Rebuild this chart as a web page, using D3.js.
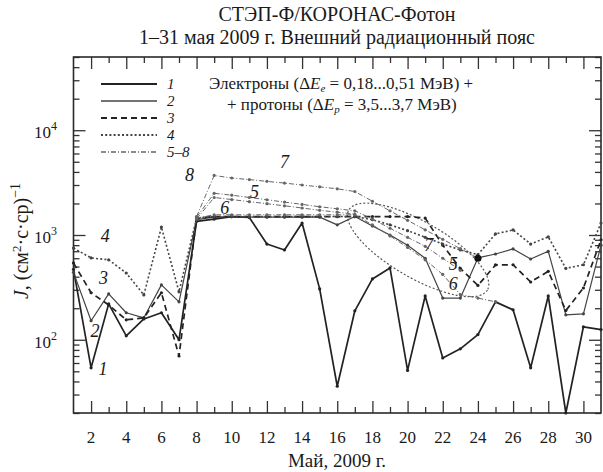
<!DOCTYPE html>
<html>
<head>
<meta charset="utf-8">
<script src="https://cdn.jsdelivr.net/npm/d3@7"></script>
</head>
<body style="margin:0;background:#fff">
<svg id="chart" width="603" height="472"></svg>
<script>
// Days of May 2009
const days = [1,2,3,4,5,6,7,8,9,10,11,12,13,14,15,16,17,18,19,20,21,22,23,24,25,26,27,28,29,30,31];

// Fluxes J, (cm^2 s sr)^-1, one value per day (null = no value)
const series1 = [470,54,220,109,158,181,100,1350,1420,1500,1470,820,720,1300,306,36,189,381,485,51,262,67,82,112,230,193,54,262,20,133,125];
const series2 = [440,152,274,181,162,334,230,1400,1480,1500,1480,1480,1480,1480,1480,1250,1500,1220,1000,800,600,250,250,604,659,736,590,700,173,177,800];
const series3 = [541,281,215,155,162,281,70,1450,1500,1500,1500,1500,1500,1500,1500,1500,1500,1500,1500,1500,1450,800,480,330,518,520,356,450,190,312,900];
const series4 = [751,604,580,434,268,1190,287,1450,1500,1500,1500,1500,1500,1500,1500,1500,1500,1400,1250,1100,950,820,720,650,1023,1117,820,960,480,520,1300];
const series5 = [null,null,null,null,null,null,null,1480,2500,2400,2280,2170,2060,1960,1860,1780,1700,1420,1160,950,780,600,460,null,null,null,null,null,null,null,null];
const series6 = [null,null,null,null,null,null,null,1450,1560,1560,1560,1560,1560,1560,1560,1560,1560,1250,980,760,580,420,270,250,230,null,null,null,null,null,null];
const series7 = [null,null,null,null,null,null,null,1500,3700,3500,3380,3250,3130,3000,2880,2760,2600,2100,1700,1380,1120,910,740,600,null,null,null,null,null,null,null];
const series8 = [null,null,null,null,null,null,null,1420,2280,2180,2080,1990,1900,1810,1720,1650,1580,null,null,null,null,null,null,null,null,null,null,null,null,null,null];

// Axis ticks
const xTickLabels = [2,4,6,8,10,12,14,16,18,20,22,24,26,28,30];
const yMajorTicks = [100,1000,10000];
const yTickExponents = ["2","3","4"];

// Curve number labels: [text, day, value]
const curveLabels = [
  ["4", 2.8, 860], ["3", 2.7, 340], ["2", 2.22, 107], ["1", 2.68, 46],
  ["8", 7.6, 3300], ["7", 13.0, 4350], ["5", 11.3, 2250], ["6", 9.6, 1580],
  ["7", 21.2, 700], ["5", 22.6, 460], ["6", 22.6, 300]
];

const FONT = "Liberation Serif";

const svg = d3.select("#chart");
const m = { left: 73.5, right: 601, top: 57, bottom: 413 };

const x = d3.scaleLinear().domain([1, 31]).range([m.left, m.right]);
const y = d3.scaleLog().domain([20, 50000]).range([m.bottom, m.top]);

function txt(sel, size) {
  return sel.attr("font-family", FONT).attr("font-size", size).attr("fill", "#1a1a1a");
}

// Minor y ticks: 2..9 within each decade
const yMinor = [];
[10, 100, 1000, 10000].forEach(d => {
  for (let k = 1; k <= 9; k++) {
    const v = d * k;
    if (v >= 20 && v <= 50000 && !yMajorTicks.includes(v)) yMinor.push(v);
  }
});

const axisG = svg.append("g");
const tickStroke = "#333";

function drawYTicks(axisGen, xpos, values, size) {
  const g = axisG.append("g").attr("transform", `translate(${xpos},0)`)
    .call(axisGen(y).tickValues(values).tickSize(size).tickFormat(""));
  g.attr("font-family", FONT);
  g.select(".domain").remove();
  g.selectAll(".tick text").remove();
  g.selectAll(".tick line").attr("stroke", tickStroke).attr("stroke-width", 1.3);
}
drawYTicks(d3.axisLeft, m.left, yMajorTicks, -12);
drawYTicks(d3.axisLeft, m.left, yMinor, -6);
drawYTicks(d3.axisRight, m.right, yMajorTicks, -12);
drawYTicks(d3.axisRight, m.right, yMinor, -6);

const xMajor = days.filter(d => d % 2 === 0);
const xMinor = days.filter(d => d % 2 === 1 && d > 1 && d < 31);
function drawXTicks(axisGen, ypos, values, size) {
  const g = axisG.append("g").attr("transform", `translate(0,${ypos})`)
    .call(axisGen(x).tickValues(values).tickSize(size).tickFormat(""));
  g.attr("font-family", FONT);
  g.select(".domain").remove();
  g.selectAll(".tick text").remove();
  g.selectAll(".tick line").attr("stroke", tickStroke).attr("stroke-width", 1.3);
}
drawXTicks(d3.axisBottom, m.bottom, xMajor, -12);
drawXTicks(d3.axisBottom, m.bottom, xMinor, -6);
drawXTicks(d3.axisTop, m.top, xMajor, -12);
drawXTicks(d3.axisTop, m.top, xMinor, -6);

// Frame
svg.append("rect").attr("x", m.left).attr("y", m.top)
  .attr("width", m.right - m.left).attr("height", m.bottom - m.top)
  .attr("fill", "none").attr("stroke", "#2a2a2a").attr("stroke-width", 1.6);

// Ellipse marking the region of proton contribution
const ellipseCenter = { day: 20.6, value: 720 };
svg.append("ellipse")
  .attr("transform", `translate(${x(ellipseCenter.day)},${y(ellipseCenter.value)}) rotate(30)`)
  .attr("rx", 80).attr("ry", 28)
  .attr("fill", "none").attr("stroke", "#555").attr("stroke-width", 1.2)
  .attr("stroke-dasharray", "2,2");

// Series styles
const seriesDefs = [
  { key: "1", data: series1, color: "#222", width: 1.7, dash: null },
  { key: "2", data: series2, color: "#444", width: 1.2, dash: null },
  { key: "3", data: series3, color: "#222", width: 1.7, dash: "6,4" },
  { key: "4", data: series4, color: "#444", width: 1.6, dash: "2,2.2" },
  { key: "5", data: series5, color: "#666", width: 1.0, dash: "5,2,1,2" },
  { key: "6", data: series6, color: "#666", width: 1.0, dash: "5,2,1,2" },
  { key: "7", data: series7, color: "#666", width: 1.0, dash: "5,2,1,2" },
  { key: "8", data: series8, color: "#666", width: 1.0, dash: "5,2,1,2" }
];

const line = d3.line()
  .defined(d => d.v != null)
  .x(d => x(d.day)).y(d => y(d.v));

const plot = svg.append("g");
seriesDefs.forEach(s => {
  const pts = days.map((d, i) => ({ day: d, v: s.data[i] }));
  plot.append("path").datum(pts)
    .attr("fill", "none").attr("stroke", s.color)
    .attr("stroke-width", s.width)
    .attr("stroke-dasharray", s.dash)
    .attr("stroke-linejoin", "round")
    .attr("d", line);
  plot.append("g").selectAll("circle").data(pts.filter(p => p.v != null)).join("circle")
    .attr("cx", p => x(p.day)).attr("cy", p => y(p.v))
    .attr("r", 1.6).attr("fill", s.color);
});

// Heavier marker where curve 7 ends
const s7last = days.map((d, i) => ({ day: d, v: series7[i] })).filter(p => p.v != null).pop();
plot.append("circle").attr("cx", x(s7last.day)).attr("cy", y(s7last.v))
  .attr("r", 3.6).attr("fill", "#111");

// Legend line samples
const legendItems = [
  { label: "1", def: seriesDefs[0] },
  { label: "2", def: seriesDefs[1] },
  { label: "3", def: seriesDefs[2] },
  { label: "4", def: seriesDefs[3] },
  { label: "5–8", def: seriesDefs[4] }
];
const lg = svg.append("g").attr("transform", "translate(101,84)");
legendItems.forEach((it, i) => {
  const yy = i * 17;
  lg.append("line").attr("x1", 0).attr("x2", 56).attr("y1", yy).attr("y2", yy)
    .attr("stroke", it.def.color).attr("stroke-width", it.def.width + 0.3)
    .attr("stroke-dasharray", it.def.dash);
});

// ---- Texts ----
txt(svg.append("text"), 20).attr("x", 337).attr("y", 21).attr("text-anchor", "middle")
  .text("СТЭП-Ф/КОРОНАС-Фотон");
txt(svg.append("text"), 20).attr("x", 337).attr("y", 44).attr("text-anchor", "middle")
  .text("1–31 мая 2009 г. Внешний радиационный пояс");

svg.append("g").selectAll("text").data(xTickLabels).join("text")
  .attr("font-family", FONT).attr("font-size", 17).attr("fill", "#1a1a1a")
  .attr("x", d => x(d)).attr("y", 443).attr("text-anchor", "middle")
  .text(d => d);

const yl = svg.append("g").selectAll("text").data(yMajorTicks).join("text")
  .attr("font-family", FONT).attr("font-size", 17).attr("fill", "#1a1a1a")
  .attr("x", 57).attr("y", d => y(d) + 8).attr("text-anchor", "end");
yl.append("tspan").text("10");
yl.append("tspan").attr("dy", -8).attr("font-size", 12).text((d, i) => yTickExponents[i]);

txt(svg.append("text"), 19).attr("x", 337).attr("y", 467).attr("text-anchor", "middle")
  .text("Май, 2009 г.");

const yt = txt(svg.append("text"), 20).attr("transform", "translate(28,241) rotate(-90)")
  .attr("text-anchor", "middle");
yt.append("tspan").attr("font-style", "italic").text("J");
yt.append("tspan").text(", (см");
yt.append("tspan").attr("dy", -7).attr("font-size", 13).text("2");
yt.append("tspan").attr("dy", 7).text("·с·ср)");
yt.append("tspan").attr("dy", -8).attr("font-size", 14).text("−1");

svg.append("g").selectAll("text").data(curveLabels).join("text")
  .attr("font-family", FONT).attr("font-size", 18).attr("fill", "#1a1a1a")
  .attr("x", d => x(d[1])).attr("y", d => y(d[2]))
  .attr("text-anchor", "middle").attr("font-style", "italic")
  .text(d => d[0]);

svg.append("g").selectAll("text").data(legendItems).join("text")
  .attr("font-family", FONT).attr("font-size", 15).attr("fill", "#1a1a1a")
  .attr("font-style", "italic")
  .attr("x", 167).attr("y", (d, i) => 84 + i * 17 + 5)
  .text(d => d.label);

const lt1 = txt(svg.append("text"), 17).attr("x", 209).attr("y", 89);
lt1.append("tspan").text("Электроны (Δ");
lt1.append("tspan").attr("font-style", "italic").text("E");
lt1.append("tspan").attr("dy", 3).attr("font-size", 11).attr("font-style", "italic").text("e");
lt1.append("tspan").attr("dy", -3).text(" = 0,18...0,51 МэВ) +");

const lt2 = txt(svg.append("text"), 17).attr("x", 227).attr("y", 110);
lt2.append("tspan").text("+ протоны (Δ");
lt2.append("tspan").attr("font-style", "italic").text("E");
lt2.append("tspan").attr("dy", 3).attr("font-size", 11).attr("font-style", "italic").text("p");
lt2.append("tspan").attr("dy", -3).text(" = 3,5...3,7 МэВ)");
</script>
</body>
</html>
